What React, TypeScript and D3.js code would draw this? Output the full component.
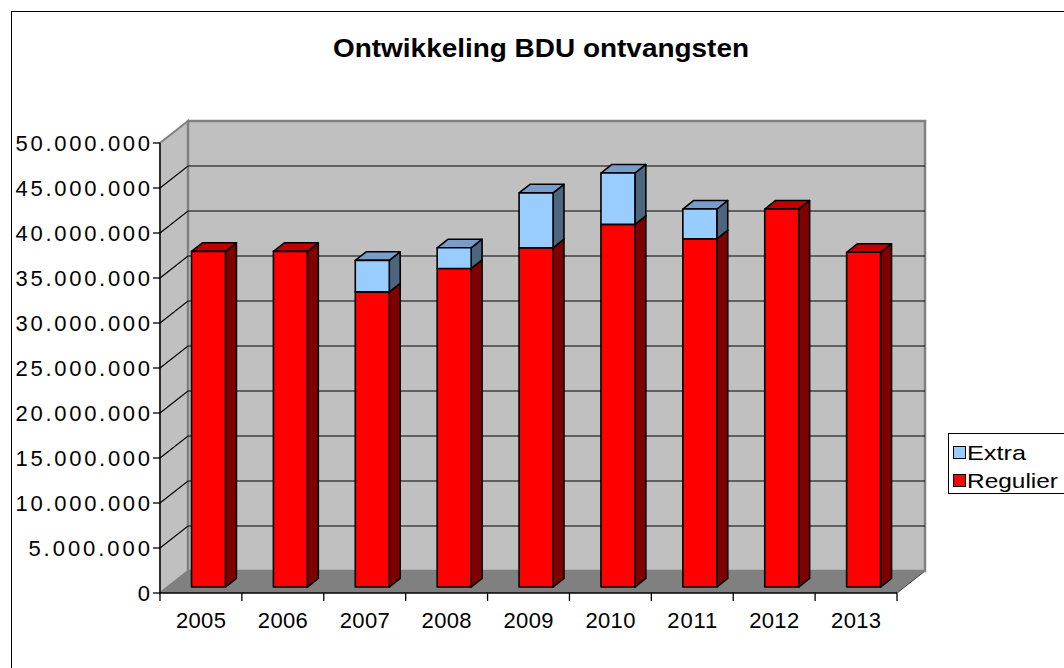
import React, { useEffect, useRef } from 'react';
import * as d3 from 'd3';

const years = ['2005', '2006', '2007', '2008', '2009', '2010', '2011', '2012', '2013'];
const regulier = [37300000, 37300000, 32800000, 35400000, 37700000, 40300000, 38700000, 42000000, 37200000];
const extra = [0, 0, 3500000, 2300000, 6100000, 5700000, 3300000, 0, 0];
const yTicks = [0, 5000000, 10000000, 15000000, 20000000, 25000000, 30000000, 35000000, 40000000, 45000000, 50000000];
const seriesNames = ['Extra', 'Regulier'];

const FONT = 'Arial, "Liberation Sans", sans-serif';

const App: React.FC = () => {
  const ref = useRef<SVGSVGElement>(null);

  useEffect(() => {
    if (!ref.current) return;
    const svg = d3.select(ref.current);
    svg.selectAll('*').remove();

    const left = 160, right = 897, y0 = 593, yTop = 143;
    const DX = 28, DY = -22; // depth of the 3d box
    const f1 = 0.27, f2 = 0.66; // bar front / back depth

    const x = d3.scaleBand<string>().domain(years).range([left, right]).padding(0);
    const y = d3.scaleLinear().domain([0, 50000000]).range([y0, yTop]);
    const barW = x.bandwidth() * 0.415;

    const pt = (px: number, py: number, f: number) => [px + DX * f, py + DY * f];
    const poly = (pts: number[][]) => pts.map(p => p.join(',')).join(' ');

    // chart border
    svg.append('rect')
      .attr('x', 11.5).attr('y', 11.5).attr('width', 1080).attr('height', 680)
      .attr('fill', 'white').attr('stroke', 'black').attr('stroke-width', 1);

    // title (the original font is wider than Arial, so stretch it)
    svg.append('text')
      .attr('x', 333).attr('y', 57)
      .attr('textLength', 416).attr('lengthAdjust', 'spacingAndGlyphs')
      .style('font-family', FONT).style('font-weight', 'bold').style('font-size', '25px')
      .text('Ontwikkeling BDU ontvangsten');

    // floor
    svg.append('polygon')
      .attr('points', poly([[left, y0], [right, y0], pt(right, y0, 1), pt(left, y0, 1)]))
      .attr('fill', '#808080');
    svg.append('line')
      .attr('x1', right).attr('y1', y0).attr('x2', right + DX).attr('y2', y0 + DY)
      .attr('stroke', '#404040').attr('stroke-width', 1);

    // side wall
    svg.append('polygon')
      .attr('points', poly([[left, y0], pt(left, y0, 1), pt(left, yTop, 1), [left, yTop]]))
      .attr('fill', '#C0C0C0').attr('stroke', '#808080').attr('stroke-width', 2);

    // back wall
    svg.append('rect')
      .attr('x', left + DX).attr('y', yTop + DY)
      .attr('width', right - left).attr('height', y0 - yTop)
      .attr('fill', '#C0C0C0').attr('stroke', '#808080').attr('stroke-width', 2.5);

    // gridlines
    yTicks.filter(t => t > 0 && t < 50000000).forEach(t => {
      const yy = y(t);
      svg.append('polyline')
        .attr('points', poly([[left, yy], pt(left, yy, 1), [right + DX, yy + DY]]))
        .attr('fill', 'none').attr('stroke', 'black').attr('stroke-width', 1.2);
    });
    svg.append('line')
      .attr('x1', left).attr('y1', y0).attr('x2', left + DX).attr('y2', y0 + DY)
      .attr('stroke', '#808080').attr('stroke-width', 1);

    // bars
    const drawBox = (cx: number, v0: number, v1: number, front: string, side: string, top: string) => {
      const xl = cx - barW / 2, xr = cx + barW / 2;
      const yb = y(v0), yt = y(v1);
      const g = svg.append('g')
        .attr('stroke', 'black').attr('stroke-width', 1.6).attr('stroke-linejoin', 'round');
      g.append('polygon')
        .attr('points', poly([pt(xr, yb, f1), pt(xr, yb, f2), pt(xr, yt, f2), pt(xr, yt, f1)]))
        .attr('fill', side);
      g.append('polygon')
        .attr('points', poly([pt(xl, yt, f1), pt(xr, yt, f1), pt(xr, yt, f2), pt(xl, yt, f2)]))
        .attr('fill', top);
      g.append('polygon')
        .attr('points', poly([pt(xl, yb, f1), pt(xr, yb, f1), pt(xr, yt, f1), pt(xl, yt, f1)]))
        .attr('fill', front);
    };

    years.forEach((yr, i) => {
      const cx = (x(yr) as number) + x.bandwidth() / 2;
      drawBox(cx, 0, regulier[i], '#FF0000', '#800000', '#C00000');
      if (extra[i] > 0) {
        drawBox(cx, regulier[i], regulier[i] + extra[i], '#99CCFF', '#4D6680', '#7A9CC8');
      }
    });

    // y axis
    svg.append('line')
      .attr('x1', left).attr('y1', y0).attr('x2', left).attr('y2', yTop)
      .attr('stroke', 'black').attr('stroke-width', 1.3);
    yTicks.forEach(t => {
      const label = d3.format(',')(t).replace(/,/g, '.');
      const digits = label.replace(/\./g, '').length;
      const dots = label.length - digits;
      svg.append('line')
        .attr('x1', left - 7).attr('y1', y(t)).attr('x2', left).attr('y2', y(t))
        .attr('stroke', 'black').attr('stroke-width', 1.3);
      svg.append('text')
        .attr('x', left - 10).attr('y', y(t)).attr('dy', '0.36em')
        .attr('text-anchor', 'end')
        .attr('textLength', digits * 12.8 + dots * 16).attr('lengthAdjust', 'spacing')
        .style('font-family', FONT).style('font-size', '22px')
        .text(label);
    });

    // x axis
    svg.append('line')
      .attr('x1', left).attr('y1', y0).attr('x2', right).attr('y2', y0)
      .attr('stroke', 'black').attr('stroke-width', 1.3);
    [...years.map(yr => x(yr) as number), right].forEach(tx => {
      svg.append('line')
        .attr('x1', tx).attr('y1', y0).attr('x2', tx).attr('y2', y0 + 8)
        .attr('stroke', 'black').attr('stroke-width', 1.3);
    });
    years.forEach(yr => {
      svg.append('text')
        .attr('x', (x(yr) as number) + x.bandwidth() / 2 - 25).attr('y', 628)
        .attr('textLength', 50).attr('lengthAdjust', 'spacing')
        .style('font-family', FONT).style('font-size', '22px')
        .text(yr);
    });

    // legend
    svg.append('rect')
      .attr('x', 948.5).attr('y', 433.5).attr('width', 140).attr('height', 60)
      .attr('fill', 'white').attr('stroke', 'black').attr('stroke-width', 1);
    const legendColors = ['#99CCFF', '#FF0000'];
    const legendWidths = [59, 91];
    seriesNames.forEach((name, i) => {
      const ly = 446 + i * 28;
      svg.append('rect')
        .attr('x', 953.5).attr('y', ly + 0.5).attr('width', 12).attr('height', 12)
        .attr('fill', legendColors[i]).attr('stroke', 'black').attr('stroke-width', 1);
      svg.append('text')
        .attr('x', 967).attr('y', ly + 14)
        .attr('textLength', legendWidths[i]).attr('lengthAdjust', 'spacingAndGlyphs')
        .style('font-family', FONT).style('font-size', '21px')
        .text(name);
    });
  }, []);

  return (
    <svg ref={ref} width={1064} height={668}
      style={{ position: 'fixed', left: 0, top: 0, display: 'block' }} />
  );
};

export default App;
